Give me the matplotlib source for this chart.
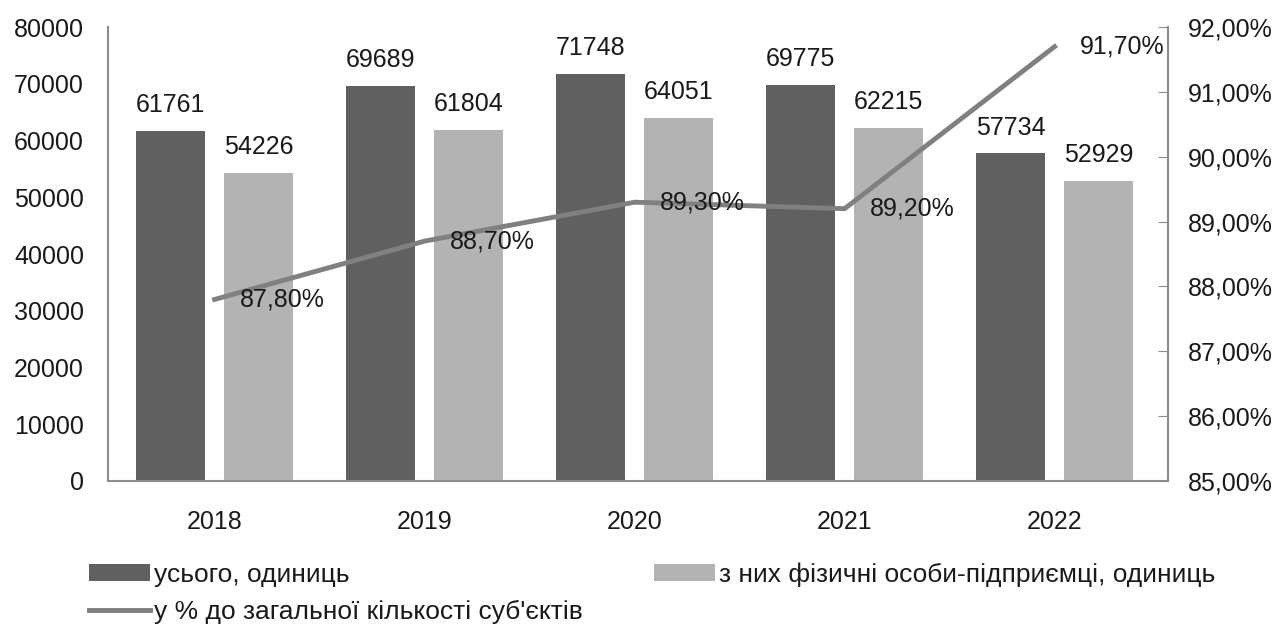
import matplotlib.pyplot as plt
import numpy as np

plt.rcParams['font.family'] = ['Liberation Sans', 'DejaVu Sans']

years = ["2018", "2019", "2020", "2021", "2022"]
total = [61761, 69689, 71748, 69775, 57734]
fop = [54226, 61804, 64051, 62215, 52929]
share = [87.8, 88.7, 89.3, 89.2, 91.7]

lbl_total = "усього, одиниць"
lbl_fop = "з них фізичні особи-підприємці, одиниць"
lbl_share = "у % до загальної кількості суб'єктів"

c_dark = "#606060"
c_light = "#b3b3b3"
c_line = "#808080"
c_text = "#1a1a1a"
c_axis = "#8c8c8c"

x = np.arange(len(years))
w = 0.33
off = 0.21

fig = plt.figure(figsize=(12.8, 6.32), dpi=100)
ax = fig.add_axes([0.084, 0.239, 0.8285, 0.718])

b1 = ax.bar(x - off, total, w, color=c_dark, label=lbl_total)
b2 = ax.bar(x + off, fop, w, color=c_light, label=lbl_fop)
ax.bar_label(b1, padding=10, fontsize=18, color=c_text)
ax.bar_label(b2, padding=10, fontsize=18, color=c_text)

ax.set_ylim(0, 80000)
ax.set_yticks(range(0, 80001, 10000))
ax.set_xlim(-0.51, 4.54)
ax.set_xticks(x)
ax.set_xticklabels(years)
ax.tick_params(axis='both', length=0, labelsize=18, labelcolor=c_text)
ax.tick_params(axis='y', pad=17)
ax.tick_params(axis='x', pad=21)
for s in ['top', 'right']:
    ax.spines[s].set_visible(False)
for s in ['left', 'bottom']:
    ax.spines[s].set_color(c_axis)
    ax.spines[s].set_linewidth(1.5)

ax2 = ax.twinx()
ln, = ax2.plot(x, share, color=c_line, lw=3.5, label=lbl_share)
for xi, v in zip(x, share):
    ax2.annotate(f"{v:.2f}%".replace(".", ","), (xi, v), xytext=(18, 0),
                 textcoords='offset points', ha='left', va='center',
                 fontsize=18, color=c_text)
ax2.set_ylim(85, 92)
ax2.set_yticks(np.arange(85, 92.01, 1))
ax2.set_yticklabels([f"{t:.2f}%".replace(".", ",") for t in np.arange(85, 92.01, 1)])
ax2.tick_params(axis='y', direction='in', length=7, color=c_axis,
                labelsize=18, labelcolor=c_text, pad=14)
for s in ['top', 'left', 'bottom']:
    ax2.spines[s].set_visible(False)
ax2.spines['right'].set_color(c_axis)
ax2.spines['right'].set_linewidth(1.5)

leg = fig.legend(handles=[b1, ln, b2], labels=[lbl_total, lbl_share, lbl_fop],
                 ncol=2, loc='center left', bbox_to_anchor=(0.0595, 0.061),
                 frameon=False, borderpad=0, handlelength=2.3, handleheight=0.6,
                 handletextpad=0.15, columnspacing=2.7, labelspacing=0.5,
                 prop={'size': 19})
for t in leg.get_texts():
    t.set_color(c_text)

fig.savefig("out.png", dpi=100)
